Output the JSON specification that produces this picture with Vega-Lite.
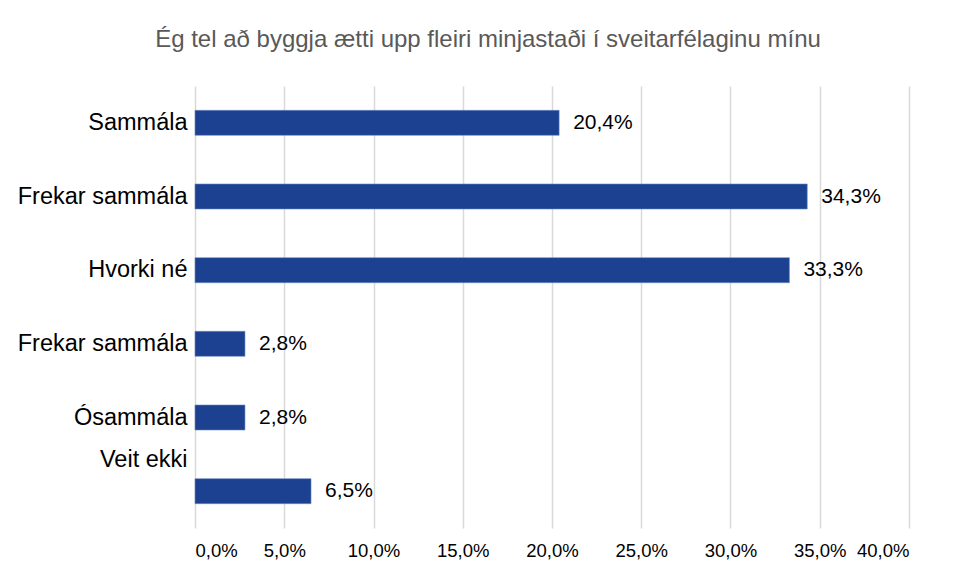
{
  "$schema": "https://vega.github.io/schema/vega-lite/v6.json",
  "autosize": {"type": "none"},
  "width": 714,
  "height": 442,
  "padding": {"left": 195, "top": 86, "right": 48, "bottom": 51},
  "background": "white",
  "config": {
    "view": {"stroke": null},
    "locale": {"number": {"decimal": ",", "thousands": ".", "grouping": [3], "currency": ["", " kr"]}}
  },
  "title": {
    "text": "Ég tel að byggja ætti upp fleiri minjastaði í sveitarfélaginu mínu",
    "font": "Liberation Sans",
    "fontSize": 24,
    "fontWeight": "normal",
    "color": "#595959",
    "anchor": "middle",
    "frame": "group",
    "dx": -64,
    "offset": 34
  },
  "data": {
    "values": [
      {"cat": "1|Sammála", "value": 0.204},
      {"cat": "2|Frekar sammála", "value": 0.343},
      {"cat": "3|Hvorki né", "value": 0.333},
      {"cat": "4|Frekar sammála", "value": 0.028},
      {"cat": "5|Ósammála", "value": 0.028},
      {"cat": "6|Veit ekki", "value": 0.065}
    ]
  },
  "encoding": {
    "y": {
      "field": "cat",
      "type": "nominal",
      "sort": null,
      "scale": {"paddingInner": 0.66, "paddingOuter": 0.33},
      "axis": {
        "title": null,
        "domain": false,
        "ticks": false,
        "labelExpr": "split(datum.value, '|')[1]",
        "labelFont": "Liberation Sans",
        "labelFontSize": 23.5,
        "labelColor": "black",
        "labelPadding": 8,
        "labelLimit": 300,
        "labelOffset": {"condition": {"test": "datum.value === '6|Veit ekki'", "value": -31}, "value": 0}
      }
    },
    "x": {
      "field": "value",
      "type": "quantitative",
      "scale": {"domain": [0, 0.4]},
      "axis": {
        "title": null,
        "format": ".1%",
        "values": [0, 0.05, 0.1, 0.15, 0.2, 0.25, 0.3, 0.35, 0.4],
        "domain": false,
        "ticks": false,
        "grid": true,
        "gridColor": "#d9d9d9",
        "gridWidth": 1.5,
        "labelFont": "Liberation Sans",
        "labelFontSize": 18.5,
        "labelColor": "black",
        "labelPadding": 13
      }
    }
  },
  "layer": [
    {"mark": {"type": "bar", "color": "#1b4190", "stroke": "#6f8cc4", "strokeWidth": 0.6}},
    {
      "mark": {"type": "text", "align": "left", "baseline": "middle", "dx": 14, "font": "Liberation Sans", "fontSize": 21, "color": "black"},
      "encoding": {"text": {"field": "value", "type": "quantitative", "format": ".1%"}}
    }
  ]
}
